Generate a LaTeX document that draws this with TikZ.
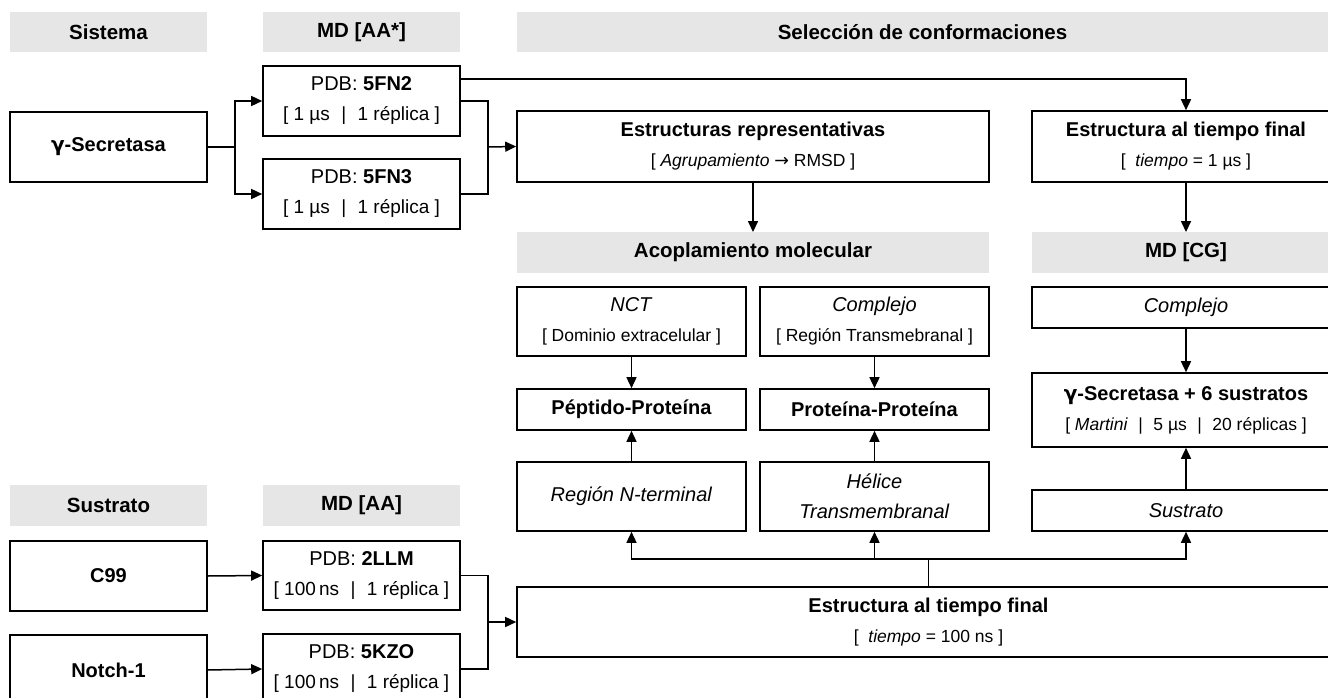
\documentclass[tikz,border=0pt]{standalone}
\usepackage{fontspec}
\setmainfont{Liberation Sans}
\newfontfamily\dejavu{DejaVu Sans}
\usetikzlibrary{arrows.meta,calc}
\definecolor{hdrgray}{RGB}{230,230,230}
\newcommand{\sm}[1]{{\fontsize{17.5}{30}\selectfont #1}}
\newcommand{\smb}[1]{{\fontsize{19}{30}\selectfont #1}}
\newcommand{\vsep}{\hspace{0.6em}|\hspace{0.6em}}
\newcommand{\gam}{{\dejavu γ}}
\tikzset{
  every node/.style={font=\fontsize{20}{30}\selectfont, inner sep=0pt, align=center},
  hdr/.style={fill=hdrgray, minimum height=40.5pt, font=\fontsize{20.5}{30}\selectfont\bfseries},
  box/.style={draw, line width=1.6pt, fill=white},
  conn/.style={line width=1.5pt},
  arr/.style={line width=1.5pt, -{Triangle[length=11pt,width=10pt]}},
}
\begin{document}
\begin{tikzpicture}[x=1pt,y=-1pt]
\useasboundingbox (0,0) rectangle (1328,698);
\clip (0,0) rectangle (1328,698);
% headers
\node[hdr, minimum width=197pt] (hSis) at (108.5,32) {Sistema};
\node[hdr, minimum width=197pt] (hMDs) at (361.5,32) {MD [AA*]};
\node[hdr, minimum width=823pt] (hSel) at (928.5,32) {\hspace*{-12pt}Selección de conformaciones};
\node[hdr, minimum width=472pt] (hAco) at (753,252.5) {Acoplamiento molecular};
\node[hdr, minimum width=308pt] (hCG) at (1186,252.5) {MD [CG]};
\node[hdr, minimum width=197pt] (hSus) at (108.5,505.5) {Sustrato};
\node[hdr, minimum width=197pt] (hMDa) at (361.5,505.5) {MD [AA]};
% boxes
\node[box, minimum width=197pt, minimum height=70pt] (gsec) at (108.5,147) {\textbf{\gam-Secretasa}};
\node[box, minimum width=197pt, minimum height=70pt] (fn2) at (361.5,101) {PDB: \textbf{5FN2}\\ \smb{[ 1 µs\vsep 1 réplica ]}};
\node[box, minimum width=197pt, minimum height=70pt] (fn3) at (361.5,194) {PDB: \textbf{5FN3}\\ \smb{[ 1 µs\vsep 1 réplica ]}};
\node[box, minimum width=472pt, minimum height=71pt] (estrep) at (753,146.5) {\textbf{Estructuras representativas}\\ \sm{[ \textit{Agrupamiento} {\dejavu →} RMSD ]}};
\node[box, minimum width=308pt, minimum height=71pt] (estfin1) at (1186,146.5) {\textbf{Estructura al tiempo final}\\ \sm{[ \ \textit{tiempo} = 1 µs ]}};
\node[box, minimum width=229pt, minimum height=69pt] (nct) at (631.5,321.5) {\textit{NCT}\\ \sm{[ Dominio extracelular ]}};
\node[box, minimum width=229pt, minimum height=69pt] (comp1) at (874.5,321.5) {\textit{Complejo}\\ \sm{[ Región Transmebranal ]}};
\node[box, minimum width=229pt, minimum height=41pt] (pep) at (631.5,409.5) {\textbf{Péptido-Proteína}};
\node[box, minimum width=229pt, minimum height=41pt] (pro) at (874.5,409.5) {\textbf{Proteína-Proteína}};
\node[box, minimum width=229pt, minimum height=69pt] (reg) at (631.5,496.5) {\textit{Región N-terminal}};
\node[box, minimum width=229pt, minimum height=69pt] (hel) at (874.5,496.5) {\textit{Hélice}\\ \textit{Transmembranal}};
\node[box, minimum width=308pt, minimum height=41pt] (comp2) at (1186,307.5) {\textit{Complejo}};
\node[box, minimum width=308pt, minimum height=74pt] (gs6) at (1186,410) {\textbf{\gam-Secretasa + 6 sustratos}\\ \sm{[ \textit{Martini}\vsep 5 µs\vsep 20 réplicas ]}};
\node[box, minimum width=308pt, minimum height=41pt] (sus) at (1186,510.5) {\textit{Sustrato}};
\node[box, minimum width=197pt, minimum height=70pt] (c99) at (108.5,576) {\textbf{C99}};
\node[box, minimum width=197pt, minimum height=70pt] (notch) at (108.5,670) {\textbf{Notch-1}};
\node[box, minimum width=197pt, minimum height=69pt] (llm) at (361.5,575.5) {PDB: \textbf{2LLM}\\ \smb{[ 100\,ns\vsep 1 réplica ]}};
\node[box, minimum width=197pt, minimum height=70pt] (kzo) at (361.5,669) {PDB: \textbf{5KZO}\\ \smb{[ 100\,ns\vsep 1 réplica ]}};
\node[box, minimum width=823pt, minimum height=70pt] (estfin2) at (928.5,622) {\textbf{Estructura al tiempo final}\\ \sm{[ \ \textit{tiempo} = 100 ns ]}};
% junctions
\coordinate (j1) at (235,147);
\coordinate (j2) at (488,147);
\coordinate (j3) at (488,622);
\coordinate (j4) at (928.5,559);
\coordinate (t1) at ([yshift=-14pt]fn2.north east);
% connectors
\draw[conn] (gsec.east) -- (j1);
\draw[arr] (j1) |- (fn2.west);
\draw[arr] (j1) |- (fn3.west);
\draw[conn] (fn2.east) -| (j2);
\draw[conn] (fn3.east) -| (j2);
\draw[arr] (j2) -- (estrep.west);
\draw[arr] (t1) -| (estfin1.north);
\draw[arr] (estrep.south) -- (hAco.north);
\draw[arr] (estfin1.south) -- (hCG.north);
\draw[arr] (nct.south) -- (pep.north);
\draw[arr] (comp1.south) -- (pro.north);
\draw[arr] (reg.north) -- (pep.south);
\draw[arr] (hel.north) -- (pro.south);
\draw[arr] (comp2.south) -- (gs6.north);
\draw[arr] (sus.north) -- (gs6.south);
\draw[arr] (c99.east) -- (llm.west);
\draw[arr] (notch.east) -- (kzo.west);
\draw[conn] (llm.east) -| (j3);
\draw[conn] (kzo.east) -| (j3);
\draw[arr] (j3) -- (estfin2.west);
\draw[conn] (estfin2.north) -- (j4);
\draw[arr] (j4) -| (reg.south);
\draw[arr] (j4) -| (hel.south);
\draw[arr] (j4) -| (sus.south);
\end{tikzpicture}
\end{document}
